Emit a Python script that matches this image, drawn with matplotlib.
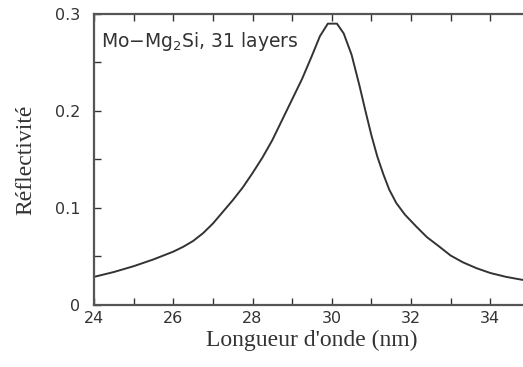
import matplotlib
matplotlib.use("Agg")
import matplotlib.pyplot as plt
from matplotlib.ticker import MultipleLocator

wavelength = [24.0, 24.5, 25.0, 25.5, 26.0, 26.25, 26.5, 26.75, 27.0, 27.25, 27.5, 27.75,
              28.0, 28.25, 28.5, 28.75, 29.0, 29.25, 29.5, 29.7, 29.9, 30.13, 30.3, 30.5,
              30.7, 30.85, 31.0, 31.15, 31.3, 31.45, 31.63, 31.85, 32.13, 32.4, 32.72,
              33.0, 33.31, 33.65, 34.0, 34.4, 34.8, 35.0]
reflectivity = [0.029, 0.034, 0.040, 0.047, 0.055, 0.060, 0.066, 0.074, 0.084, 0.096, 0.108, 0.121,
                0.136, 0.152, 0.170, 0.191, 0.212, 0.233, 0.257, 0.277, 0.290, 0.290, 0.280, 0.258,
                0.226, 0.200, 0.175, 0.153, 0.135, 0.119, 0.105, 0.093, 0.081, 0.070, 0.060,
                0.051, 0.044, 0.038, 0.033, 0.029, 0.026, 0.025]

x_ticks = [24, 26, 28, 30, 32, 34]
y_ticks = [0, 0.1, 0.2, 0.3]
y_ticklabels = ["0", "0.1", "0.2", "0.3"]
annotation = "Mo\u2212Mg$_2$Si, 31 layers"
xlabel = "Longueur d'onde (nm)"
ylabel = "Réflectivité"

ink = "#333333"
fig = plt.figure(figsize=(5.23, 3.67), dpi=100)
ax = fig.add_axes([0.18, 0.169, 1.013 - 0.18, 0.962 - 0.169])
ax.plot(wavelength, reflectivity, color=ink, lw=1.4)
ax.set_xlim(24, 35)
ax.set_ylim(0, 0.3)
ax.set_xticks(x_ticks)
ax.set_xticklabels([str(t) for t in x_ticks])
ax.set_yticks(y_ticks)
ax.set_yticklabels(y_ticklabels)
ax.xaxis.set_minor_locator(MultipleLocator(1))
ax.yaxis.set_minor_locator(MultipleLocator(0.05))
ax.tick_params(which="both", direction="in", top=True, right=True, length=5,
               width=1.0, color=ink, labelcolor=ink, labelsize=11.5)
ax.tick_params(axis="x", pad=4)
ax.tick_params(axis="y", pad=10)
for s in ax.spines.values():
    s.set_color("#555555")
    s.set_linewidth(1.6)

ax.text(0.015, 0.905, annotation, transform=ax.transAxes, fontsize=13.5,
        color=ink, ha="left", va="center")
ax.set_xlabel(xlabel, family="Liberation Serif", fontsize=17, color=ink, labelpad=3)
ax.set_ylabel(ylabel, family="Liberation Serif", fontsize=17, color=ink, labelpad=13)

fig.savefig("out.png", dpi=100)
